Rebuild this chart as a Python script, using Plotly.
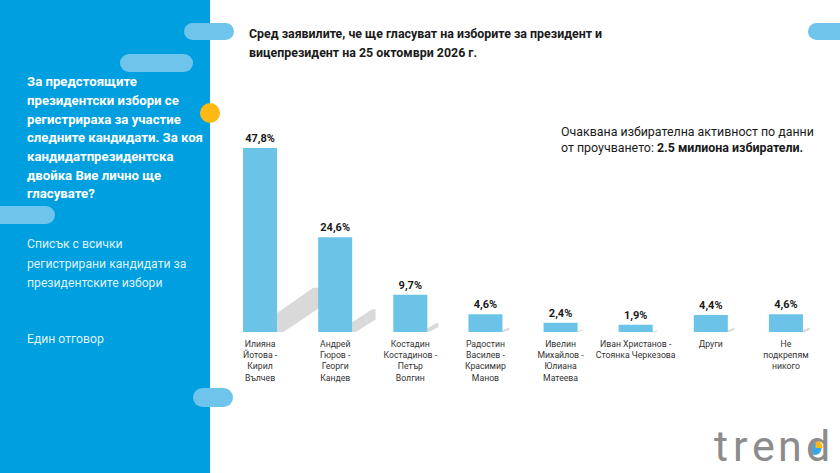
import plotly.graph_objects as go

W, H = 840, 473

categories = [
    "Илияна<br>Йотова -<br>Кирил<br>Вълчев",
    "Андрей<br>Гюров -<br>Георги<br>Кандев",
    "Костадин<br>Костадинов -<br>Петър<br>Волгин",
    "Радостин<br>Василев -<br>Красимир<br>Манов",
    "Ивелин<br>Михайлов -<br>Юлиана<br>Матеева",
    "Иван Христанов -<br>Стоянка Черкезова",
    "Други",
    "Не<br>подкрепям<br>никого",
]
values = [47.8, 24.6, 9.7, 4.6, 2.4, 1.9, 4.4, 4.6]
value_labels = [f"{v:.1f}".replace(".", ",") + "%" for v in values]

title_lines = ["Сред заявилите, че ще гласуват на изборите за президент и",
               "вицепрезидент на 25 октомври 2026 г."]
question_lines = ["За предстоящите", "президентски избори се", "регистрираха за участие",
                  "следните кандидати. За коя", "кандидатпрезидентска",
                  "двойка Вие лично ще", "гласувате?"]
list_lines = ["Списък с всички", "регистрирани кандидати за", "президентските избори"]
answer_text = "Един отговор"
note_lines = ["Очаквана избирателна активност по данни",
              "от проучването: <b>2.5 милиона избиратели.</b>"]
logo_letters = ["t", "r", "e", "n", "d"]

BLUE = "#009FDF"
PILL = "#6EC4EA"
BAR = "#6CC3E8"
FONT = "Roboto, sans-serif"


def px(x):
    return x / W


def py(y):
    return 1 - y / H


x_idx = list(range(len(values)))

fig = go.Figure()
fig.add_trace(go.Bar(
    x=x_idx, y=values, marker=dict(color=BAR, line=dict(width=0)),
    text=value_labels, textposition="outside", cliponaxis=False,
    textfont=dict(family=FONT, size=11, color="#1a1a1a", weight="bold"),
    hoverinfo="skip",
))

shapes = []
shapes.append(dict(type="rect", xref="paper", yref="paper", x0=0, x1=px(210), y0=0, y1=1,
                   fillcolor=BLUE, line=dict(width=0), layer="below"))


def pill(x0, y0, x1, y1, color=PILL):
    r = (y1 - y0) / 2
    return [
        dict(type="rect", xref="paper", yref="paper", x0=px(x0 + r), x1=px(x1 - r),
             y0=py(y1), y1=py(y0), fillcolor=color, line=dict(width=0), layer="below"),
        dict(type="circle", xref="paper", yref="paper", x0=px(x0), x1=px(x0 + 2 * r),
             y0=py(y1), y1=py(y0), fillcolor=color, line=dict(width=0), layer="below"),
        dict(type="circle", xref="paper", yref="paper", x0=px(x1 - 2 * r), x1=px(x1),
             y0=py(y1), y1=py(y0), fillcolor=color, line=dict(width=0), layer="below"),
    ]


for p in [(184, 23, 234, 40), (120, 54, 193, 72), (-20, 206, 55, 224),
          (193, 388, 233, 407), (808, 23, 860, 40)]:
    shapes += pill(*p)

shapes.append(dict(type="circle", xref="paper", yref="paper", x0=px(200), x1=px(220),
                   y0=py(123), y1=py(103), fillcolor="#FDB913", line=dict(width=0)))

# bar shadows (derived from bar values)
half = 0.227
for i, v in enumerate(values):
    hgt = 0.24 * v
    dx = 0.011 * v + 0.04
    xr = i + half
    path = (f"M {xr},0 L {xr},{hgt*0.43} L {xr+0.85*dx},{hgt} L {xr+dx},{hgt} "
            f"L {xr+dx},{hgt*0.55} L {xr+0.15*dx},0 Z")
    shapes.append(dict(type="path", xref="x", yref="y", path=path,
                       fillcolor="rgba(128,128,128,0.3)", line=dict(width=0), layer="below"))

# logo pie icon inside the "d"
shapes.append(dict(type="circle", xref="paper", yref="paper", x0=px(808.5), x1=px(821.5),
                   y0=py(455), y1=py(442), fillcolor="#3AA6E0", line=dict(width=0)))
shapes.append(dict(type="path", xref="paper", yref="paper",
                   path=(f"M {px(815.5)},{py(448)} L {px(815.5)},{py(440.5)} L {px(819)},{py(441.2)} "
                         f"L {px(821.5)},{py(443.5)} L {px(822.7)},{py(448)} Z"),
                   fillcolor="#FDB913", line=dict(width=0)))

annotations = []


def add_line(text, x, yc, size, color, weight="normal", anchor="left"):
    annotations.append(dict(text=text, x=px(x), y=py(yc), xref="paper", yref="paper",
                            xanchor=anchor, yanchor="middle", align="left", showarrow=False,
                            font=dict(family=FONT, size=size, color=color, weight=weight)))


for k, t in enumerate(title_lines):
    add_line(t, 247, 33 + 19 * k, 12.4, "#1a1a1a", "bold")
for k, t in enumerate(question_lines):
    add_line(t, 25, 82 + 18.6 * k, 13.2, "white", "bold")
for k, t in enumerate(list_lines):
    add_line(t, 25, 244 + 19.5 * k, 12.2, "rgba(255,255,255,0.88)")
add_line(answer_text, 25, 339, 12.2, "rgba(255,255,255,0.88)")
for k, t in enumerate(note_lines):
    add_line(t, 559, 131 + 16.5 * k, 12.4, "#1a1a1a")
for ch, xc in zip(logo_letters, [721, 740, 763, 790, 818]):
    add_line(ch, xc, 446, 43, "#8c8c8c", anchor="center")

fig.update_layout(
    width=W, height=H, margin=dict(l=0, r=0, t=0, b=0),
    paper_bgcolor="white", plot_bgcolor="rgba(0,0,0,0)",
    showlegend=False, bargap=0.547,
    shapes=shapes, annotations=annotations,
    xaxis=dict(domain=[px(222.5), px(823.5)], range=[-0.5, 7.5],
               tickmode="array", tickvals=x_idx, ticktext=categories,
               tickfont=dict(family=FONT, size=8.7, color="#333333"),
               showgrid=False, zeroline=False, showline=False, ticks="",
               ticklabelstandoff=5),
    yaxis=dict(domain=[py(332), py(101)], range=[0, 60], visible=False, showgrid=False),
)

fig.write_html("out.html")
